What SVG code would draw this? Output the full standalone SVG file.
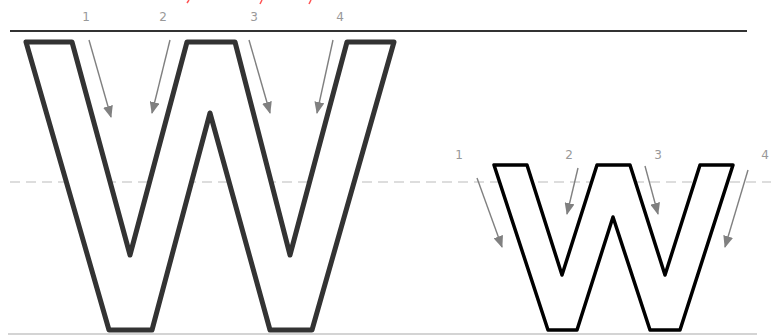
<svg xmlns="http://www.w3.org/2000/svg" width="771" height="336" viewBox="0 0 771 336">
<style>
.glyph{fill:#fff;stroke-linejoin:round}
.big{stroke:#333;stroke-width:5}
.small{stroke:#000;stroke-width:3.5}
.arr{stroke:#808080;stroke-width:1.4;fill:none;marker-end:url(#ah)}
.lbl{font-family:"DejaVu Sans",sans-serif;font-size:12px;fill:#999;text-anchor:middle}
.guide{stroke:#bbb;stroke-width:1.2;stroke-dasharray:10 6;fill:none}
</style>
<defs>
<marker id="ah" viewBox="0 0 12 10" refX="11" refY="5" markerWidth="12" markerHeight="10" markerUnits="userSpaceOnUse" orient="auto">
<path d="M0,0 L12,5 L0,10 z" fill="#808080"/>
</marker>
</defs>
<g id="guides">
<line x1="10" y1="31" x2="747" y2="31" stroke="#333" stroke-width="2"/>
<line x1="10" y1="182" x2="771" y2="182" class="guide"/>
<line x1="8" y1="334" x2="757" y2="334" stroke="#aaa" stroke-width="1.2"/>
<path d="M189,0 l-2,3 M262,0 l-2,4 M311,0 l-2,4" stroke="#f55" stroke-width="1.5" fill="none"/>
</g>
<g id="big-w">
<path class="glyph big" d="M26,42 L72,42 L130,255 L187,42 L235,42 L290,255 L347,42 L394,42 L312,330 L270,330 L210,113 L152,330 L109,330 Z"/>
</g>
<g id="small-w">
<path class="glyph small" d="M494,165 L527,165 L562,275 L597,165 L630,165 L665,275 L700,165 L733,165 L680,330 L650,330 L613,217 L577,330 L548,330 Z"/>
</g>
<g id="labels">
<text class="lbl" x="86" y="21">1</text>
<text class="lbl" x="163" y="21">2</text>
<text class="lbl" x="254" y="21">3</text>
<text class="lbl" x="340" y="21">4</text>
<text class="lbl" x="459" y="159">1</text>
<text class="lbl" x="569" y="159">2</text>
<text class="lbl" x="658" y="159">3</text>
<text class="lbl" x="765" y="159">4</text>
</g>
<g id="connectors">
<line class="arr" x1="89" y1="40" x2="111" y2="117"/>
<line class="arr" x1="170" y1="40" x2="152" y2="113"/>
<line class="arr" x1="249" y1="40" x2="270" y2="113"/>
<line class="arr" x1="333" y1="40" x2="317" y2="113"/>
<line class="arr" x1="477" y1="178" x2="502" y2="247"/>
<line class="arr" x1="578" y1="168" x2="567" y2="214"/>
<line class="arr" x1="645" y1="166" x2="658" y2="214"/>
<line class="arr" x1="748" y1="170" x2="725" y2="247"/>
</g>
</svg>
